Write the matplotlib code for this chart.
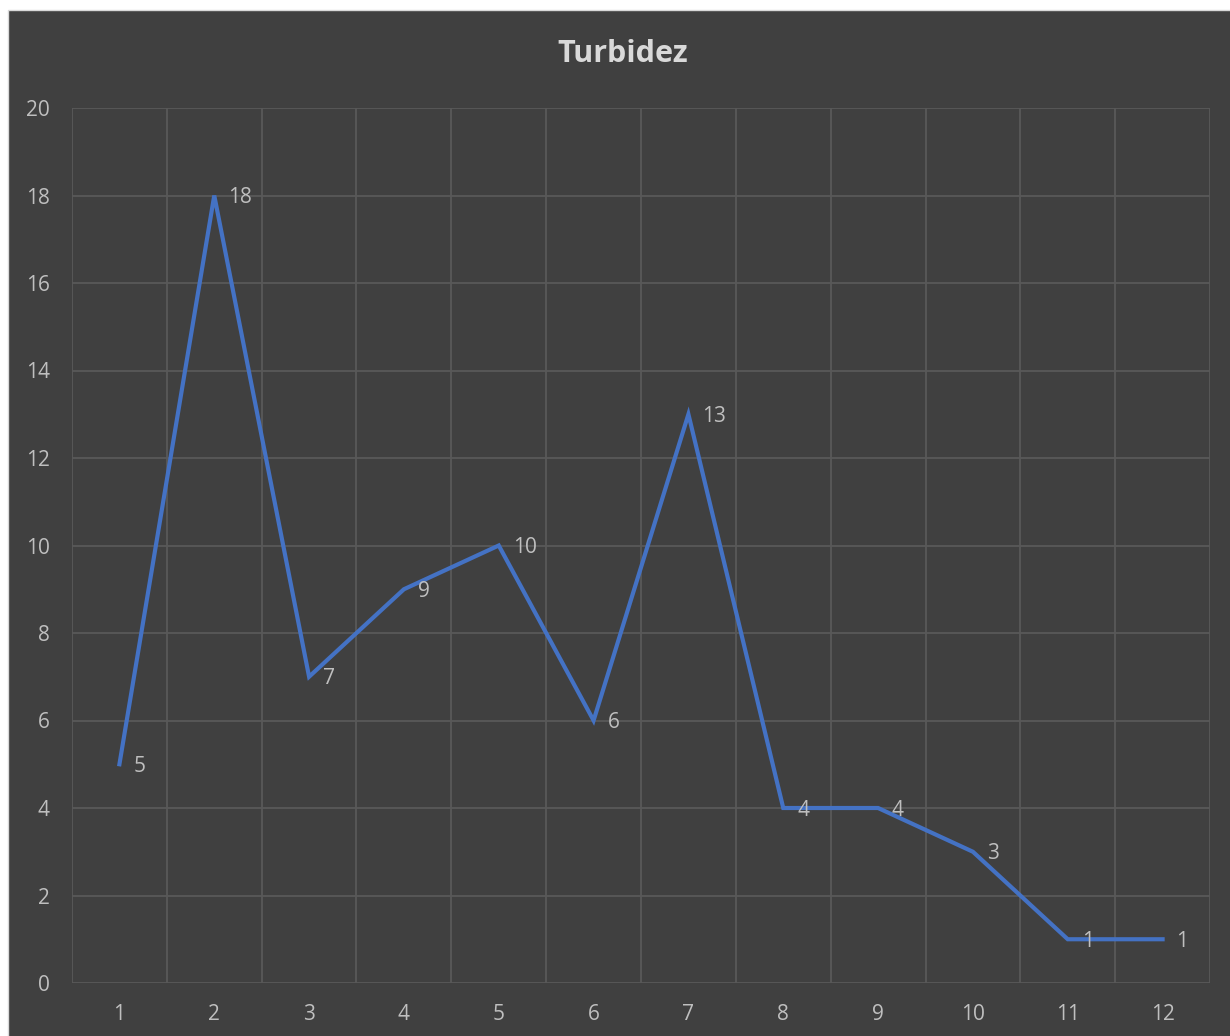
import matplotlib.pyplot as plt
from matplotlib.patches import Rectangle

# ====== DATA ======
categories = [1, 2, 3, 4, 5, 6, 7, 8, 9, 10, 11, 12]
turbidez = [5, 18, 7, 9, 10, 6, 13, 4, 4, 3, 1, 1]
y_ticks = [0, 2, 4, 6, 8, 10, 12, 14, 16, 18, 20]

# ====== STYLE ======
bg = '#404040'
grid = '#595959'
txt = '#BFBFBF'
line = '#4472C4'
plt.rcParams['font.family'] = ['Open Sans', 'DejaVu Sans']

fig = plt.figure(figsize=(12.3, 10.36), dpi=100, facecolor='white')
# dark chart area with thin border, leaving a white strip top/left
fig.patches.append(Rectangle((8/1230, -0.01), 1.01 - 8/1230, 1.01 - 10/1036, transform=fig.transFigure,
                             facecolor=bg, edgecolor='#D9D9D9', linewidth=1, zorder=-10))

ax = fig.add_axes([72/1230, 53/1036, 1138/1230, 875/1036])
ax.patch.set_alpha(0)

ax.plot(categories, turbidez, color=line, linewidth=3, solid_joinstyle='miter', zorder=3)
for xi, yi in zip(categories, turbidez):
    ax.annotate(str(yi), (xi, yi), xytext=(10, -1.5), textcoords='offset points',
                ha='left', va='center', color=txt, fontsize=15, zorder=4)

ax.set_xlim(0.5, 12.5)
ax.set_ylim(0, 20)
ax.set_xticks(categories)
ax.set_yticks(y_ticks)
ax.grid(False)
for v in [c - 0.5 for c in categories] + [12.5]:
    ax.axvline(v, color=grid, linewidth=1.3, zorder=1)
for h in y_ticks:
    ax.axhline(h, color=grid, linewidth=1.3, zorder=1)

for s in ax.spines.values():
    s.set_visible(False)
ax.tick_params(axis='both', which='both', length=0, colors=txt, labelsize=15)
ax.tick_params(axis='y', pad=16)
ax.tick_params(axis='x', pad=15)

fig.text(623/1230, 1 - 54/1036, 'Turbidez', ha='center', va='center',
         color='#D9D9D9', fontsize=22, fontweight='bold')

plt.savefig('out.png', dpi=100, facecolor=fig.get_facecolor())
